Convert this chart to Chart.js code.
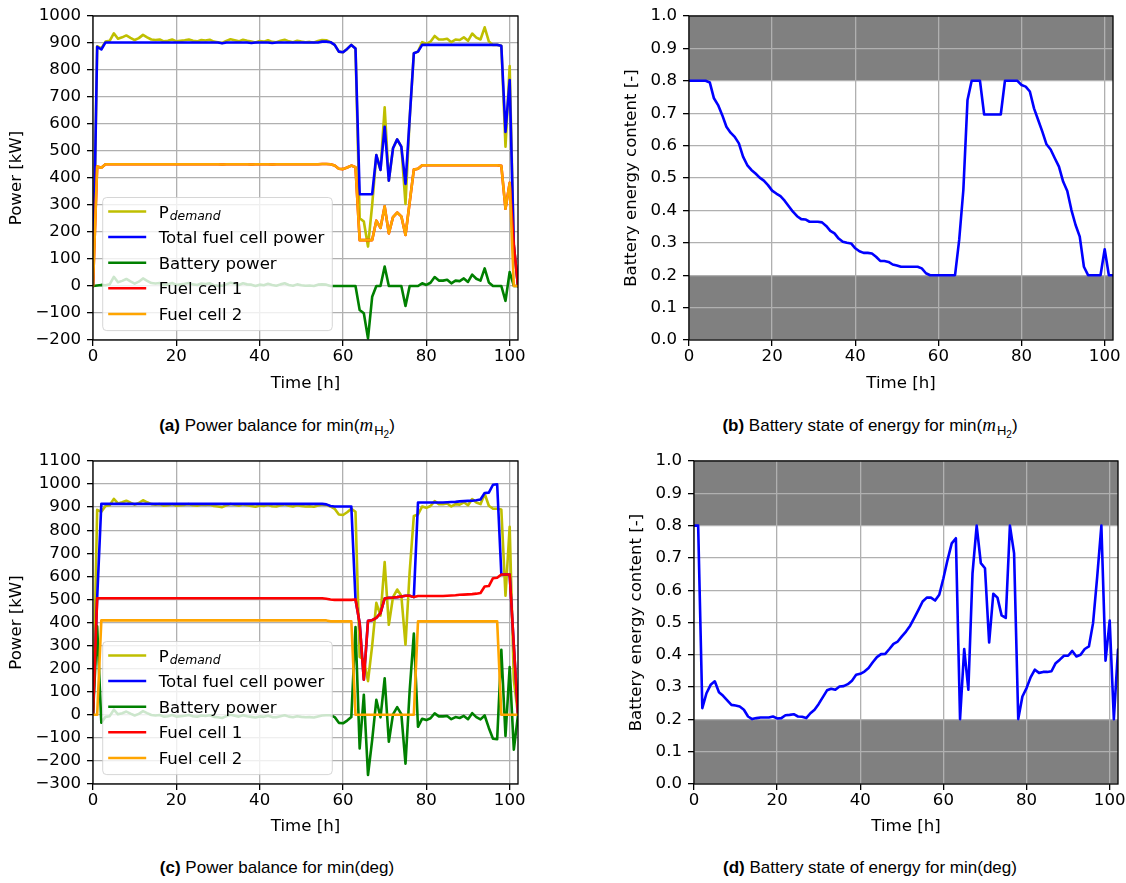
<!DOCTYPE html>
<html>
<head>
<meta charset="utf-8">
<title>Power balance and battery state of energy</title>
<script src="https://cdn.jsdelivr.net/npm/chart.js@4.4.1/dist/chart.umd.min.js"></script>
<style>
  html, body { margin: 0; padding: 0; background: #fff; }
  #fig { position: relative; width: 1126px; height: 883px; overflow: hidden; }
  #fig canvas { position: absolute; }
  .cap { position: absolute; width: 520px; text-align: center; white-space: nowrap;
         font: 17px "Liberation Sans", Arial, sans-serif; line-height: 20px; color: #000; }
  .cap .mi { font-family: "Liberation Serif", "DejaVu Serif", serif; font-style: italic; font-size: 19px; }
  .cap .sb { position: relative; top: 4px; font-size: 13px; margin-left: 1px; }
  .cap .sb2 { position: relative; top: 3px; font-size: 10px; }
</style>
</head>
<body>
<div id="fig">
  <canvas id="powerA" width="540" height="394" style="left:0;top:0"></canvas>
  <canvas id="socA" width="530" height="394" style="left:610px;top:0"></canvas>
  <canvas id="powerC" width="540" height="392" style="left:0;top:445px"></canvas>
  <canvas id="socC" width="530" height="392" style="left:615px;top:445px"></canvas>

  <div class="cap" style="left:17px;top:415px"><b>(a)</b> Power balance for min(<span class="mi">m</span><span class="sb">H<span class="sb2">2</span></span>)</div>
  <div class="cap" style="left:610px;top:415px"><b>(b)</b> Battery state of energy for min(<span class="mi">m</span><span class="sb">H<span class="sb2">2</span></span>)</div>
  <div class="cap" style="left:17px;top:858px"><b>(c)</b> Power balance for min(deg)</div>
  <div class="cap" style="left:610px;top:858px"><b>(d)</b> Battery state of energy for min(deg)</div>
</div>

<script>
// time axis [h]
const hours = [
  0, 1, 2, 3, 4, 5, 6, 7, 8, 9, 10, 11, 12, 13, 14, 15, 16, 17, 18, 19,
  20, 21, 22, 23, 24, 25, 26, 27, 28, 29, 30, 31, 32, 33, 34, 35, 36, 37, 38, 39,
  40, 41, 42, 43, 44, 45, 46, 47, 48, 49, 50, 51, 52, 53, 54, 55, 56, 57, 58, 59,
  60, 61, 62, 63, 64, 65, 66, 67, 68, 69, 70, 71, 72, 73, 74, 75, 76, 77, 78, 79,
  80, 81, 82, 83, 84, 85, 86, 87, 88, 89, 90, 91, 92, 93, 94, 95, 96, 97, 98, 99,
  100, 101, 102
];

// power demand [kW], same mission for both strategies
const demand = [
  0, 888, 880, 905, 908, 936, 916, 921, 928, 919,
  911, 918, 930, 921, 913, 911, 913, 906, 908, 913,
  906, 908, 910, 913, 908, 906, 911, 909, 912, 905,
  903, 900, 908, 914, 910, 906, 912, 908, 905, 902,
  907, 905, 910, 904, 903, 908, 912, 906, 903, 908,
  905, 903, 904, 902, 907, 911, 910, 903, 893, 868,
  866, 878, 893, 880, 251, 239, 146, 300, 485, 430,
  662, 390, 510, 543, 516, 304, 620, 862, 868, 903,
  897, 905, 926, 913, 913, 916, 903, 913, 911, 921,
  908, 935, 920, 913, 958, 906, 893, 893, 890, 516,
  815, 150, 0
];

// min(m_H2): fuel cell and battery power [kW]
const totalA = [
  0, 886, 876, 902, 902, 902, 902, 902, 902, 902,
  902, 902, 902, 902, 902, 902, 902, 902, 902, 902,
  902, 902, 902, 902, 902, 902, 902, 902, 902, 902,
  902, 899, 902, 902, 902, 902, 902, 902, 900, 902,
  902, 902, 902, 900, 902, 902, 902, 902, 902, 902,
  902, 902, 902, 902, 902, 905, 905, 903, 893, 868,
  866, 878, 893, 880, 340, 340, 340, 340, 485, 430,
  590, 390, 510, 543, 516, 378, 620, 862, 868, 893,
  893, 893, 893, 893, 893, 893, 893, 893, 893, 893,
  893, 893, 893, 893, 893, 893, 893, 893, 890, 571,
  763, 150, 0
];
const batteryA = [
  0, 2, 4, 3, 6, 34, 14, 19, 26, 17,
  9, 16, 28, 19, 11, 9, 11, 4, 6, 11,
  4, 6, 8, 11, 6, 4, 9, 7, 10, 3,
  1, 1, 6, 12, 8, 4, 10, 6, 5, 0,
  5, 3, 8, 4, 1, 6, 10, 4, 1, 6,
  3, 1, 2, 0, 5, 6, 5, 0, 0, 0,
  0, 0, 0, 0, -89, -101, -194, -40, 0, 0,
  72, 0, 0, 0, 0, -74, 0, 0, 0, 10,
  4, 12, 33, 20, 20, 23, 10, 20, 18, 28,
  15, 42, 27, 20, 65, 13, 0, 0, 0, -55,
  52, 0, 0
];
const cell1A = [
  0, 443, 438, 451, 451, 451, 451, 451, 451, 451,
  451, 451, 451, 451, 451, 451, 451, 451, 451, 451,
  451, 451, 451, 451, 451, 451, 451, 451, 451, 451,
  451, 450, 451, 451, 451, 451, 451, 451, 450, 451,
  451, 451, 451, 450, 451, 451, 451, 451, 451, 451,
  451, 451, 451, 451, 451, 452, 452, 451, 446, 434,
  433, 439, 446, 440, 170, 170, 170, 170, 242, 215,
  295, 195, 255, 272, 258, 189, 310, 431, 434, 447,
  447, 447, 447, 447, 447, 447, 447, 447, 447, 447,
  447, 447, 447, 447, 447, 447, 447, 447, 445, 286,
  382, 150, 0
];
const cell2A = [
  0, 443, 438, 451, 451, 451, 451, 451, 451, 451,
  451, 451, 451, 451, 451, 451, 451, 451, 451, 451,
  451, 451, 451, 451, 451, 451, 451, 451, 451, 451,
  451, 450, 451, 451, 451, 451, 451, 451, 450, 451,
  451, 451, 451, 450, 451, 451, 451, 451, 451, 451,
  451, 451, 451, 451, 451, 452, 452, 451, 446, 434,
  433, 439, 446, 440, 170, 170, 170, 170, 242, 215,
  295, 195, 255, 272, 258, 189, 310, 431, 434, 447,
  447, 447, 447, 447, 447, 447, 447, 447, 447, 447,
  447, 447, 447, 447, 447, 447, 447, 447, 445, 286,
  382, 0, 0
];
// min(m_H2): battery energy content [-]
const socA = [
  0.8, 0.8, 0.8, 0.8, 0.8, 0.795, 0.746, 0.725, 0.694, 0.658,
  0.64, 0.627, 0.607, 0.566, 0.54, 0.525, 0.514, 0.501, 0.492, 0.478,
  0.461, 0.452, 0.444, 0.43, 0.413, 0.396, 0.382, 0.373, 0.372, 0.365,
  0.365, 0.365, 0.363, 0.352, 0.337, 0.329, 0.313, 0.303, 0.3, 0.298,
  0.283, 0.274, 0.269, 0.269, 0.267, 0.257, 0.244, 0.244, 0.241, 0.233,
  0.23, 0.226, 0.226, 0.226, 0.226, 0.226, 0.221, 0.206, 0.2, 0.2,
  0.2, 0.2, 0.2, 0.2, 0.2, 0.309, 0.463, 0.741, 0.8, 0.8,
  0.8, 0.696, 0.696, 0.696, 0.696, 0.696, 0.8, 0.8, 0.8, 0.8,
  0.787, 0.782, 0.767, 0.715, 0.679, 0.643, 0.604, 0.588, 0.561, 0.535,
  0.489, 0.46, 0.401, 0.355, 0.319, 0.226, 0.2, 0.2, 0.2, 0.2,
  0.28, 0.2, 0.2
];

// min(deg): fuel cell and battery power [kW]
const totalC = [
  0, 505, 914, 914, 914, 914, 914, 914, 914, 914,
  914, 914, 914, 914, 914, 914, 914, 914, 914, 914,
  914, 914, 914, 914, 914, 914, 914, 914, 914, 914,
  914, 914, 914, 914, 914, 914, 914, 914, 914, 914,
  914, 914, 914, 914, 914, 914, 914, 914, 914, 914,
  914, 914, 914, 914, 914, 914, 912, 905, 903, 903,
  903, 903, 903, 500, 397, 152, 407, 410, 420, 441,
  504, 507, 508, 510, 513, 516, 516, 510, 920, 920,
  920, 920, 920, 920, 920, 921, 922, 923, 925, 926,
  927, 928, 930, 933, 961, 963, 997, 999, 608, 608,
  608, 301, 0
];
const batteryC = [
  0, 383, -34, -9, -6, 22, 2, 7, 14, 5,
  -3, 4, 16, 7, -1, -3, -1, -8, -6, -1,
  -8, -6, -4, -1, -6, -8, -3, -5, -2, -9,
  -11, -14, -6, 0, -4, -8, -2, -6, -9, -12,
  -7, -9, -4, -10, -11, -6, -2, -8, -11, -6,
  -9, -11, -10, -12, -7, -3, -2, -2, -10, -35,
  -37, -25, -10, 380, -146, 87, -261, -110, 65, -11,
  158, -117, 2, 33, 3, -212, 104, 352, -52, -17,
  -23, -15, 6, -7, -7, -5, -19, -10, -14, -5,
  -19, 7, -10, -20, -3, -57, -104, -106, 282, -92,
  207, -151, 0
];
const cell1C = [
  0, 505, 505, 505, 505, 505, 505, 505, 505, 505,
  505, 505, 505, 505, 505, 505, 505, 505, 505, 505,
  505, 505, 505, 505, 505, 505, 505, 505, 505, 505,
  505, 505, 505, 505, 505, 505, 505, 505, 505, 505,
  505, 505, 505, 505, 505, 505, 505, 505, 505, 505,
  505, 505, 505, 505, 505, 505, 503, 500, 498, 498,
  498, 498, 498, 500, 397, 152, 407, 410, 420, 441,
  504, 507, 508, 510, 513, 516, 516, 510, 515, 515,
  515, 515, 515, 515, 515, 516, 517, 518, 520, 521,
  522, 523, 525, 528, 556, 558, 592, 594, 608, 608,
  608, 301, 0
];
const cell2C = [
  0, 0, 409, 409, 409, 409, 409, 409, 409, 409,
  409, 409, 409, 409, 409, 409, 409, 409, 409, 409,
  409, 409, 409, 409, 409, 409, 409, 409, 409, 409,
  409, 409, 409, 409, 409, 409, 409, 409, 409, 409,
  409, 409, 409, 409, 409, 409, 409, 409, 409, 409,
  409, 409, 409, 409, 409, 409, 409, 405, 405, 405,
  405, 405, 405, 0, 0, 0, 0, 0, 0, 0,
  0, 0, 0, 0, 0, 0, 0, 0, 405, 405,
  405, 405, 405, 405, 405, 405, 405, 405, 405, 405,
  405, 405, 405, 405, 405, 405, 405, 405, 0, 0,
  0, 0, 0
];
// min(deg): battery energy content [-]
const socC = [
  0.8, 0.8, 0.235, 0.281, 0.307, 0.318, 0.284, 0.273, 0.259, 0.245,
  0.243, 0.24, 0.23, 0.209, 0.201, 0.204, 0.206, 0.206, 0.206, 0.209,
  0.203, 0.204, 0.213, 0.214, 0.216, 0.209, 0.208, 0.204, 0.219, 0.23,
  0.248, 0.269, 0.29, 0.295, 0.292, 0.302, 0.303, 0.309, 0.32, 0.338,
  0.341, 0.348, 0.359, 0.377, 0.393, 0.402, 0.403, 0.418, 0.434, 0.441,
  0.457, 0.472, 0.49, 0.514, 0.539, 0.565, 0.577, 0.577, 0.568, 0.586,
  0.637, 0.694, 0.745, 0.761, 0.201, 0.418, 0.292, 0.652, 0.8, 0.684,
  0.668, 0.438, 0.589, 0.577, 0.522, 0.514, 0.8, 0.714, 0.201, 0.271,
  0.297, 0.331, 0.354, 0.344, 0.347, 0.347, 0.349, 0.374, 0.385, 0.397,
  0.397, 0.412, 0.395, 0.4, 0.418, 0.426, 0.498, 0.642, 0.8, 0.382,
  0.506, 0.201, 0.416
];

// allowed battery window, outside is shaded
const socLimits = [0.2, 0.8];

const FONT = "'DejaVu Sans', sans-serif";
const FS = 16.6;
const font = { family: FONT, size: FS };

const C_DEMAND = "#bfbf00";
const C_TOTAL = "#0000ff";
const C_BATT = "#008000";
const C_FC1 = "#ff0000";
const C_FC2 = "#ffa500";

const grid = { color: "#b0b0b0", lineWidth: 1.3, tickColor: "#000", tickLength: 6, tickWidth: 1.3 };

// shaded bands for the forbidden state-of-energy regions
const bandPlugin = {
  id: "socBands",
  beforeDraw(chart, args, opts) {
    if (!opts.ranges) return;
    const { ctx, chartArea: a, scales: { y } } = chart;
    ctx.save();
    ctx.fillStyle = "#808080";
    for (const [lo, hi] of opts.ranges) {
      const top = y.getPixelForValue(hi), bot = y.getPixelForValue(lo);
      ctx.fillRect(a.left, top, a.right - a.left, bot - top);
    }
    ctx.restore();
  },
};

function labelWidth(ctx, label) {
  const [base, sub] = label.split("_");
  ctx.font = `${FS}px ${FONT}`;
  let w = ctx.measureText(base).width;
  if (sub) {
    ctx.font = `oblique 12.4px ${FONT}`;
    w += ctx.measureText(sub).width + 1;
  }
  return w;
}

function drawLabel(ctx, label, x, baseline) {
  const [base, sub] = label.split("_");
  ctx.font = `${FS}px ${FONT}`;
  ctx.fillText(base, x, baseline);
  if (sub) {
    const w = ctx.measureText(base).width;
    ctx.font = `oblique 12.4px ${FONT}`;
    ctx.fillText(sub, x + w + 1, baseline + 2.5);
  }
}

// axes frame on all four sides, then the boxed legend in the lower left
const framePlugin = {
  id: "figLegend",
  afterDraw(chart, args, opts) {
    const { ctx, chartArea: a } = chart;
    ctx.save();
    ctx.strokeStyle = "#000";
    ctx.lineWidth = 1.3;
    ctx.strokeRect(a.left, a.top, a.right - a.left, a.bottom - a.top);

    if (opts.show) {
      const sets = chart.data.datasets;
      const rowH = 25.6;
      const boxW = 56 + Math.max(...sets.map(d => labelWidth(ctx, d.label))) + 8;
      const boxH = 14 + (sets.length - 1) * rowH + 16.7;
      const x0 = a.left + 9.7;
      const y0 = a.bottom - 9.4 - boxH;

      ctx.beginPath();
      ctx.roundRect(x0, y0, boxW, boxH, 4);
      ctx.fillStyle = "rgba(255,255,255,0.8)";
      ctx.fill();
      ctx.strokeStyle = "rgba(204,204,204,0.8)";
      ctx.lineWidth = 1;
      ctx.stroke();

      ctx.textAlign = "left";
      ctx.textBaseline = "alphabetic";
      sets.forEach((d, i) => {
        const cy = y0 + 14 + i * rowH;
        ctx.beginPath();
        ctx.moveTo(x0 + 5.5, cy);
        ctx.lineTo(x0 + 43.5, cy);
        ctx.strokeStyle = d.borderColor;
        ctx.lineWidth = 2.5;
        ctx.stroke();
        ctx.fillStyle = "#000";
        drawLabel(ctx, d.label, x0 + 56, cy + 6);
      });
    }
    ctx.restore();
  },
};

const series = (label, data, color, order) => ({
  label, data, order, borderColor: color, backgroundColor: color,
});

const minusSign = v => (v < 0 ? "\u2212" + Math.abs(v) : String(v));

function buildChart(id, o) {
  return new Chart(document.getElementById(id), {
    type: "line",
    data: { labels: hours, datasets: o.datasets },
    options: {
      responsive: false, animation: false, devicePixelRatio: 1,
      layout: { padding: { top: 16, right: o.padRight, left: 0, bottom: 0 } },
      plugins: {
        legend: { display: false }, tooltip: { enabled: false },
        figLegend: { show: !!o.legend },
        socBands: { ranges: o.bands || null },
      },
      elements: {
        point: { radius: 0 },
        line: { tension: 0, borderWidth: 2.6, borderJoinStyle: "round", borderCapStyle: "round" },
      },
      scales: {
        x: {
          type: "linear", min: 0, max: 102,
          afterFit: s => { s.height = o.xHeight; },
          ticks: { stepSize: 20, includeBounds: false, autoSkip: false, maxRotation: 0, padding: 1, color: "#000", font },
          grid, border: { display: false },
          title: { display: true, text: "Time [h]", color: "#000", font, padding: { top: 0, bottom: 0 } },
        },
        y: {
          min: o.yMin, max: o.yMax,
          afterFit: s => { s.width = o.yWidth; },
          ticks: { stepSize: o.yStep, includeBounds: false, padding: 6, color: "#000", font, callback: o.fmt },
          grid, border: { display: false },
          title: { display: true, text: o.yTitle, color: "#000", font, padding: { top: o.titlePad, bottom: 0 } },
        },
      },
    },
    plugins: [bandPlugin, framePlugin],
  });
}

const powerSets = (total, batt, fc1, fc2) => [
  series("P_demand", demand, C_DEMAND, 5),
  series("Total fuel cell power", total, C_TOTAL, 4),
  series("Battery power", batt, C_BATT, 3),
  series("Fuel cell 1", fc1, C_FC1, 2),
  series("Fuel cell 2", fc2, C_FC2, 1),
];

const bands = [[0, socLimits[0]], [socLimits[1], 1]];

buildChart("powerA", {
  datasets: powerSets(totalA, batteryA, cell1A, cell2A), legend: true,
  yMin: -200, yMax: 1000, yStep: 100, fmt: minusSign, yTitle: "Power [kW]",
  yWidth: 93, xHeight: 54, titlePad: 7, padRight: 22,
});
buildChart("socA", {
  datasets: [series("SoE", socA, C_TOTAL, 1)], bands,
  yMin: 0, yMax: 1, yStep: 0.1, fmt: v => v.toFixed(1), yTitle: "Battery energy content [-]",
  yWidth: 79, xHeight: 54, titlePad: 12, padRight: 27,
});
buildChart("powerC", {
  datasets: powerSets(totalC, batteryC, cell1C, cell2C), legend: true,
  yMin: -300, yMax: 1100, yStep: 100, fmt: minusSign, yTitle: "Power [kW]",
  yWidth: 93, xHeight: 53, titlePad: 7, padRight: 22,
});
buildChart("socC", {
  datasets: [series("SoE", socC, C_TOTAL, 1)], bands,
  yMin: 0, yMax: 1, yStep: 0.1, fmt: v => v.toFixed(1), yTitle: "Battery energy content [-]",
  yWidth: 79, xHeight: 53, titlePad: 12, padRight: 27,
});
</script>
</body>
</html>
